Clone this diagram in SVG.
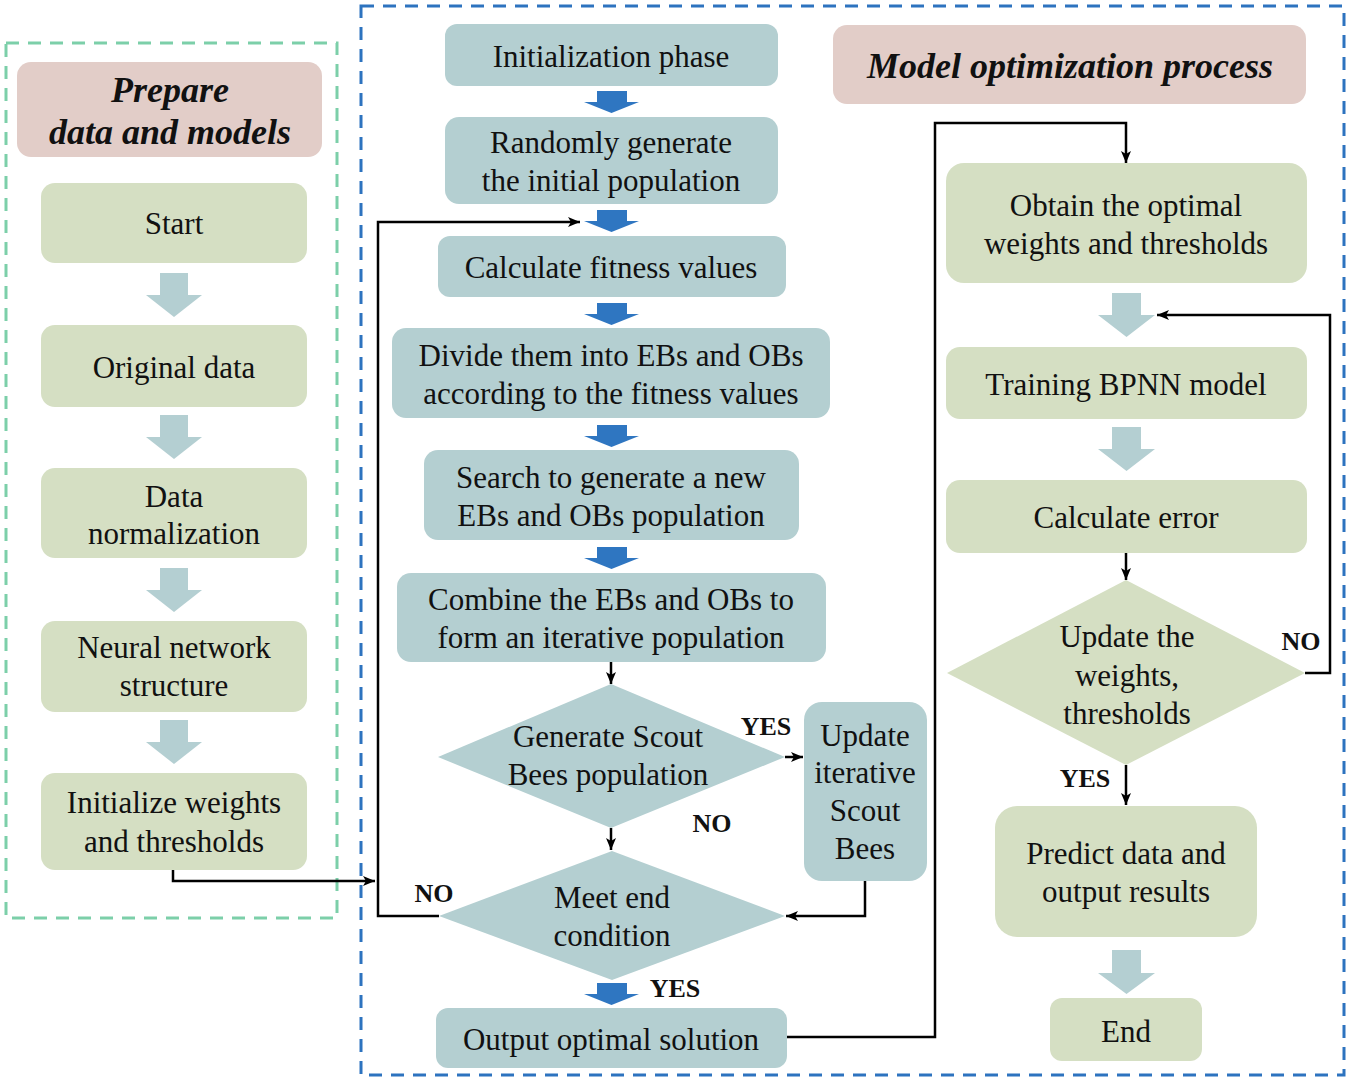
<svg xmlns="http://www.w3.org/2000/svg" width="1350" height="1081" viewBox="0 0 1350 1081">
<defs>
<style>
.t{font-family:"Liberation Serif","Times New Roman",serif;font-size:31px;fill:#111;text-anchor:middle}
.h{font-family:"Liberation Serif","Times New Roman",serif;font-size:36px;font-weight:bold;font-style:italic;fill:#111;text-anchor:middle}
.l{font-family:"Liberation Serif","Times New Roman",serif;font-size:26px;font-weight:bold;fill:#111;text-anchor:middle}
.g{fill:#d5dfc3}
.b{fill:#b4cfd1}
.p{fill:#e2cdc8}
.fa{fill:#b4cfd2}
.ba{fill:#2f76c1}
.c{fill:none;stroke:#000;stroke-width:2.5;marker-end:url(#ah)}
</style>
<marker id="ah" markerUnits="userSpaceOnUse" markerWidth="13" markerHeight="11" refX="12" refY="5" orient="auto">
<path d="M0,0 L12,5 L0,10 L3,5 Z" fill="#000"/>
</marker>
</defs>
<rect width="1350" height="1081" fill="#fff"/>
<g id="frames">
<rect x="6" y="43" width="331" height="875" fill="none" stroke="#7ccfa9" stroke-width="3" stroke-dasharray="13 9"/>
<rect x="361" y="6" width="983" height="1069" fill="none" stroke="#2d73bf" stroke-width="3" stroke-dasharray="13 9"/>
</g>
<g id="title-left"><rect class="p" x="17" y="62" width="305" height="95" rx="14"/><text class="h" x="170" y="102">Prepare</text><text class="h" x="170" y="144">data and models</text></g>
<g id="title-right"><rect class="p" x="833" y="25" width="473" height="79" rx="14"/><text class="h" x="1070" y="78">Model optimization process</text></g>
<g id="start"><rect class="g" x="41" y="183" width="266" height="80" rx="14"/><text class="t" x="174" y="234">Start</text></g>
<g id="original"><rect class="g" x="41" y="325" width="266" height="82" rx="14"/><text class="t" x="174" y="378">Original data</text></g>
<g id="normalization"><rect class="g" x="41" y="468" width="266" height="90" rx="14"/><text class="t" x="174" y="507">Data</text><text class="t" x="174" y="544">normalization</text></g>
<g id="structure"><rect class="g" x="41" y="621" width="266" height="91" rx="14"/><text class="t" x="174" y="658">Neural network</text><text class="t" x="174" y="696">structure</text></g>
<g id="initw"><rect class="g" x="41" y="773" width="266" height="97" rx="14"/><text class="t" x="174" y="813">Initialize weights</text><text class="t" x="174" y="852">and thresholds</text></g>
<g id="fat-arrows-left">
<path class="fa" d="M160,273 H188 V295 H202 L174,317 L146,295 H160 Z"/>
<path class="fa" d="M160,415 H188 V437 H202 L174,459 L146,437 H160 Z"/>
<path class="fa" d="M160,568 H188 V590 H202 L174,612 L146,590 H160 Z"/>
<path class="fa" d="M160,720 H188 V742 H202 L174,764 L146,742 H160 Z"/>
</g>
<g id="initphase"><rect class="b" x="445" y="24" width="333" height="62" rx="12"/><text class="t" x="611" y="67">Initialization phase</text></g>
<g id="random"><rect class="b" x="445" y="117" width="333" height="87" rx="14"/><text class="t" x="611" y="153">Randomly generate</text><text class="t" x="611" y="191">the initial population</text></g>
<g id="fitness"><rect class="b" x="438" y="236" width="348" height="61" rx="12"/><text class="t" x="611" y="278">Calculate fitness values</text></g>
<g id="divide"><rect class="b" x="392" y="328" width="438" height="90" rx="14"/><text class="t" x="611" y="366">Divide them into EBs and OBs</text><text class="t" x="611" y="404">according to the fitness values</text></g>
<g id="search"><rect class="b" x="424" y="450" width="375" height="90" rx="14"/><text class="t" x="611" y="488">Search to generate a new</text><text class="t" x="611" y="526">EBs and OBs population</text></g>
<g id="combine"><rect class="b" x="397" y="573" width="429" height="89" rx="14"/><text class="t" x="611" y="610">Combine the EBs and OBs to</text><text class="t" x="611" y="648">form an iterative population</text></g>
<g id="scoutdec"><polygon class="b" points="611,684 785,757 611,828 438,757"/><text class="t" x="608" y="747">Generate Scout</text><text class="t" x="608" y="785">Bees population</text></g>
<g id="update"><rect class="b" x="804" y="702" width="123" height="179" rx="18"/><text class="t" x="865" y="746">Update</text><text class="t" x="865" y="783">iterative</text><text class="t" x="865" y="821">Scout</text><text class="t" x="865" y="859">Bees</text></g>
<g id="enddec"><polygon class="b" points="612,851 785,916 612,980 439,916"/><text class="t" x="612" y="908">Meet end</text><text class="t" x="612" y="946">condition</text></g>
<g id="output"><rect class="b" x="436" y="1008" width="351" height="60" rx="12"/><text class="t" x="611" y="1050">Output optimal solution</text></g>
<g id="blue-arrows">
<path class="ba" d="M597,91 H627 V102 H639 L611.5,113 L584,102 H597 Z"/>
<path class="ba" d="M597,210 H627 V221 H639 L611.5,232 L584,221 H597 Z"/>
<path class="ba" d="M597,303 H627 V314 H639 L611.5,325 L584,314 H597 Z"/>
<path class="ba" d="M597,425 H627 V436 H639 L611.5,447 L584,436 H597 Z"/>
<path class="ba" d="M597,547 H627 V558 H639 L611.5,569 L584,558 H597 Z"/>
<path class="ba" d="M597,983 H627 V994 H639 L611.5,1005 L584,994 H597 Z"/>
</g>
<g id="obtain"><rect class="g" x="946" y="163" width="361" height="120" rx="18"/><text class="t" x="1126" y="216">Obtain the optimal</text><text class="t" x="1126" y="254">weights and thresholds</text></g>
<g id="training"><rect class="g" x="946" y="347" width="361" height="72" rx="14"/><text class="t" x="1126" y="395">Training BPNN model</text></g>
<g id="error"><rect class="g" x="946" y="480" width="361" height="73" rx="14"/><text class="t" x="1126" y="528">Calculate error</text></g>
<g id="updatedec"><polygon class="g" points="1126,580 1305,673 1126,765 947,673"/><text class="t" x="1127" y="647">Update the</text><text class="t" x="1127" y="686">weights,</text><text class="t" x="1127" y="724">thresholds</text></g>
<g id="predict"><rect class="g" x="995" y="806" width="262" height="131" rx="22"/><text class="t" x="1126" y="864">Predict data and</text><text class="t" x="1126" y="902">output results</text></g>
<g id="end"><rect class="g" x="1050" y="998" width="152" height="63" rx="12"/><text class="t" x="1126" y="1042">End</text></g>
<g id="fat-arrows-right">
<path class="fa" d="M1112,293 H1141 V315 H1155 L1126.5,337 L1098,315 H1112 Z"/>
<path class="fa" d="M1112,427 H1141 V449 H1155 L1126.5,471 L1098,449 H1112 Z"/>
<path class="fa" d="M1112,950 H1141 V973 H1155 L1126.5,994 L1098,973 H1112 Z"/>
</g>
<g id="connectors">
<path class="c" d="M173,870 V881 H375"/>
<path class="c" d="M439,916 H378 V222 H580"/>
<path class="c" d="M611,662 V684"/>
<path class="c" d="M785,757 H803"/>
<path class="c" d="M611,828 V850"/>
<path class="c" d="M865,881 V916 H786"/>
<path class="c" d="M787,1037 H935 V123 H1126 V163"/>
<path class="c" d="M1305,673 H1330 V315 H1157"/>
<path class="c" d="M1126,553 V580"/>
<path class="c" d="M1126,765 V805"/>
</g>
<g id="labels">
<text class="l" x="766" y="735">YES</text>
<text class="l" x="712" y="832">NO</text>
<text class="l" x="434" y="902">NO</text>
<text class="l" x="675" y="997">YES</text>
<text class="l" x="1301" y="650">NO</text>
<text class="l" x="1085" y="787">YES</text>
</g>
</svg>
